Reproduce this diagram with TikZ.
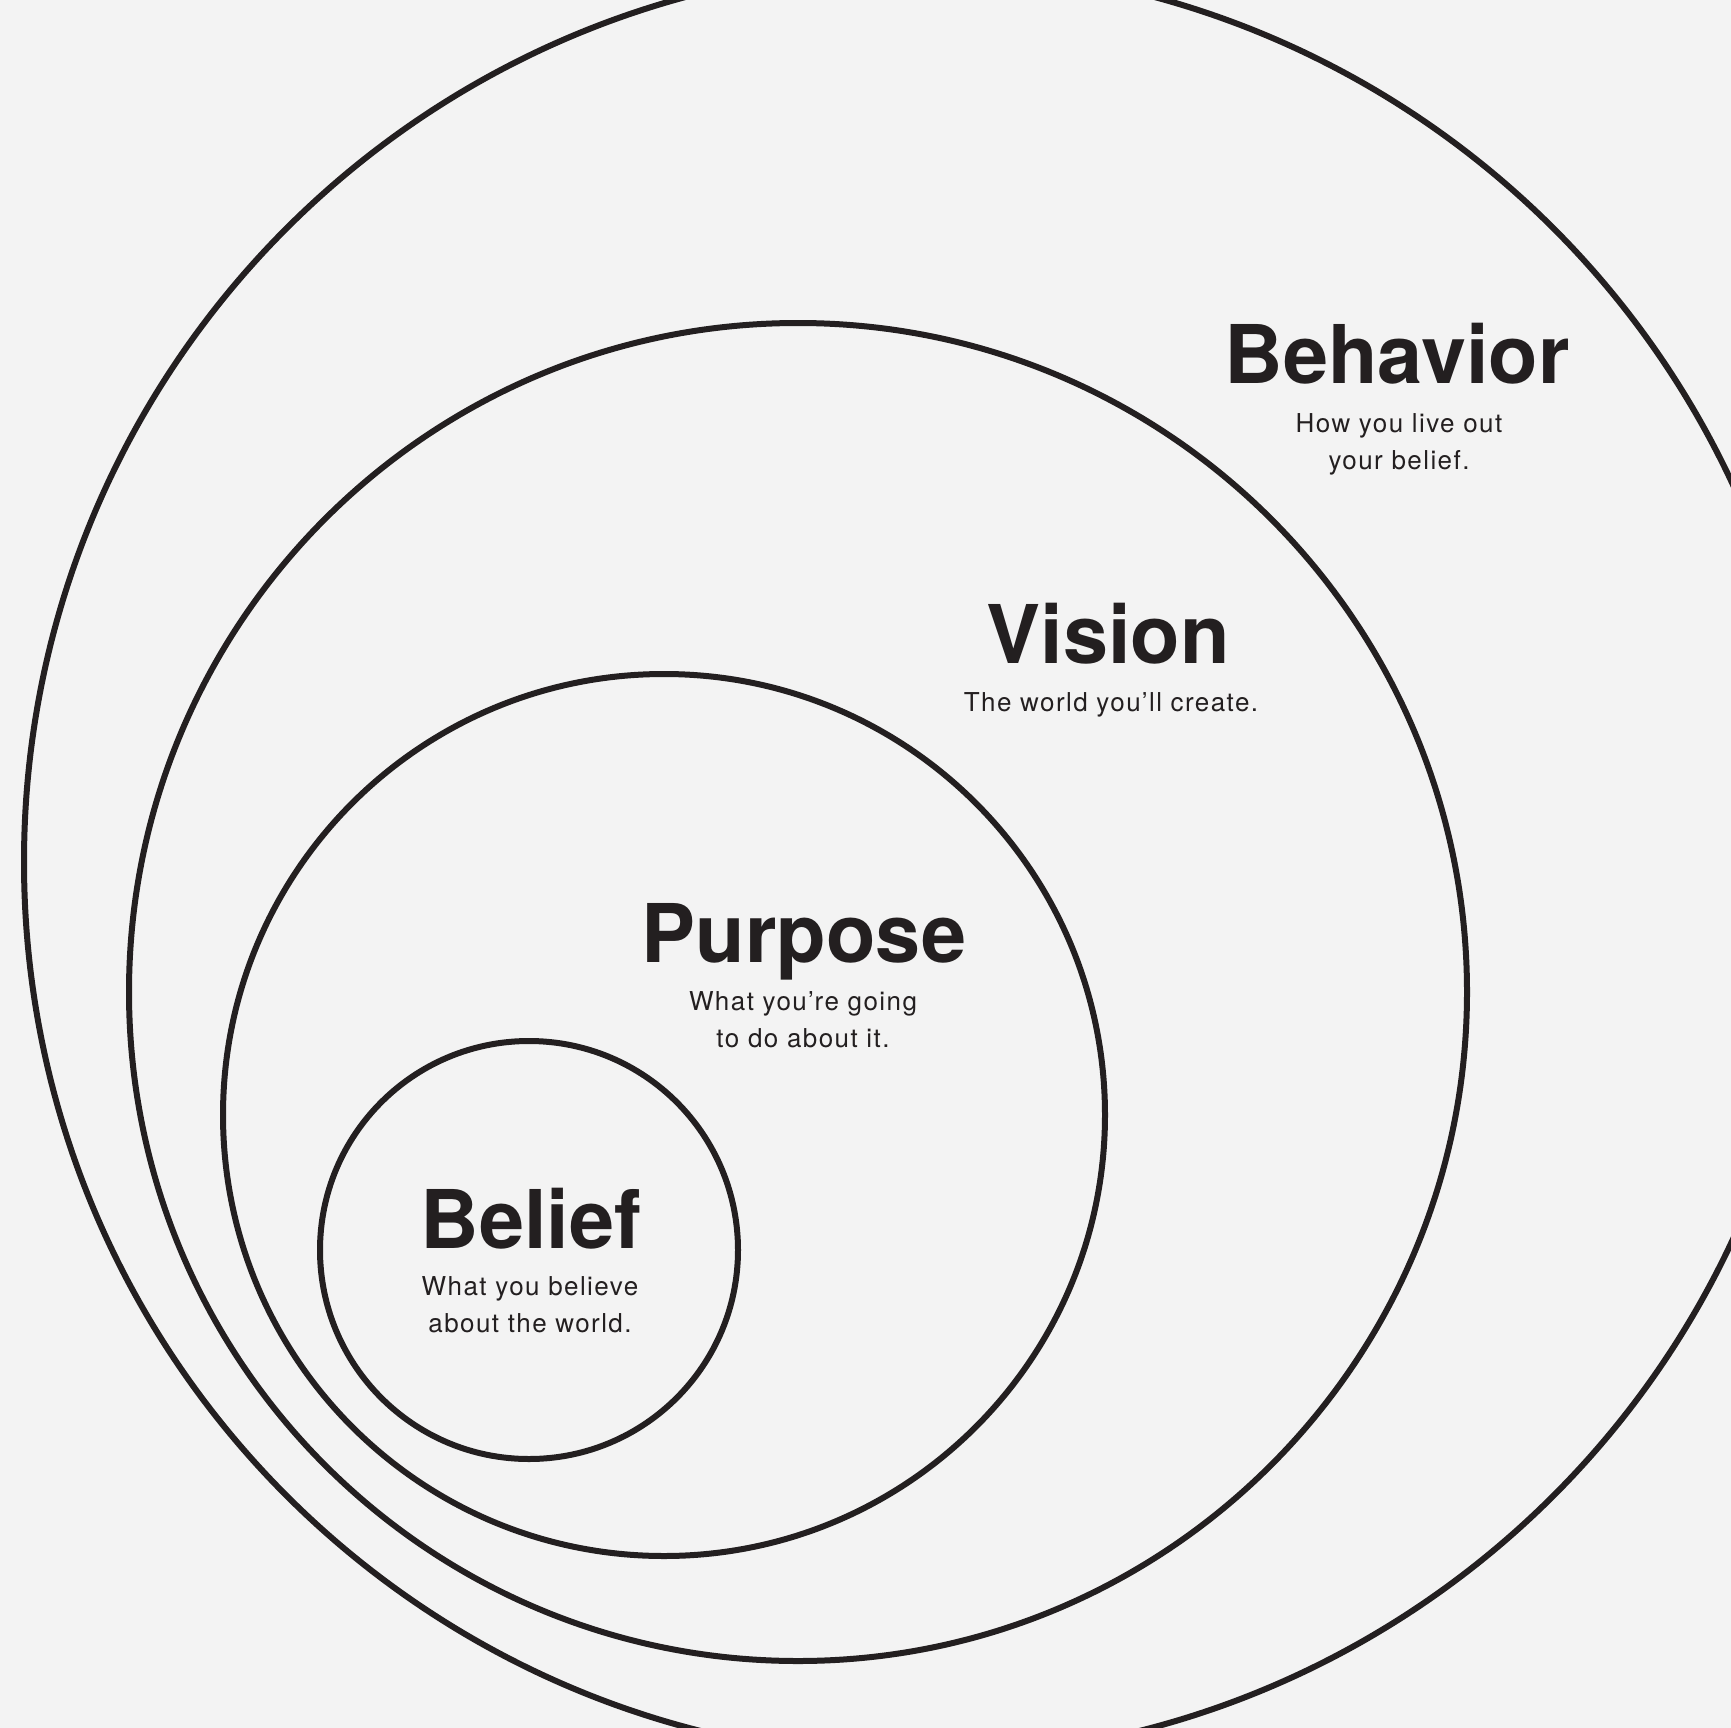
\documentclass[tikz,border=0pt]{standalone}
\usepackage{fontspec}
\setmainfont{TeX Gyre Heros}
\newfontfamily\headfont{TeX Gyre Heros}[UprightFont=*-Bold]
\newfontfamily\subfont{TeX Gyre Heros}[LetterSpace=5.5]
\definecolor{ink}{HTML}{231F20}
\definecolor{paper}{HTML}{F3F3F3}
\newcommand\twoline[2]{\begin{tabular}[t]{@{}c@{}}#1\\#2\end{tabular}}
\tikzset{
  ring/.style={draw=ink, line width=6pt},
  headtext/.style={text=ink, anchor=base, inner sep=0pt, font=\headfont\fontsize{81}{81}\selectfont},
  subtext/.style={text=ink, anchor=base, inner sep=0pt, font=\subfont\fontsize{26}{37.5}\selectfont},
}
\begin{document}
\begin{tikzpicture}[x=1pt,y=-1pt]
\fill[paper] (0,0) rectangle (1731,1728);
\useasboundingbox (0,0) rectangle (1731,1728);
\begin{scope}
\clip (0,0) rectangle (1731,1728);
\draw[ring] (920,862) circle[radius=896];
\draw[ring] (798,992) circle[radius=669];
\draw[ring] (664,1115) circle[radius=441];
\draw[ring] (529,1250) circle[radius=209];
\end{scope}
\node[headtext] (behavior) at (1397,383) {Behavior};
\node[subtext] (behaviorsub) at (1399,432) {\twoline{How you live out}{your belief.}};
\node[headtext] (vision) at (1108,663) {Vision};
\node[subtext] (visionsub) at (1111,711) {The world you’ll create.};
\node[headtext] (purpose) at (804,962) {Purpose};
\node[subtext] (purposesub) at (803,1010) {\twoline{What you’re going}{to do about it.}};
\node[headtext] (belief) at (531,1248) {Belief};
\node[subtext] (beliefsub) at (530,1295) {\twoline{What you believe}{about the world.}};
\end{tikzpicture}
\end{document}
